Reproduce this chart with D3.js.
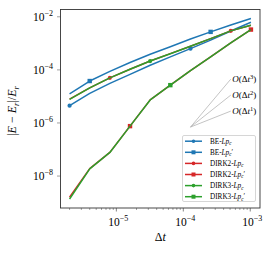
<!DOCTYPE html>
<html>
<head>
<meta charset="utf-8">
<script src="https://cdn.jsdelivr.net/npm/d3@7"></script>
<style>
  body { margin: 0; background: #fff; }
  svg { font-family: "Liberation Serif", "DejaVu Serif", serif; }
</style>
</head>
<body>
<div id="chart"></div>
<script>
// time steps (halving)
const dt = [2e-6, 4e-6, 8e-6, 1.6e-5, 3.2e-5, 6.4e-5, 1.28e-4, 2.56e-4, 5.12e-4, 1.024e-3];

// relative energy error for each scheme
const beLpc    = [4.5e-6, 1.3e-5, 3.1e-5, 6.8e-5, 1.49e-4, 3.1e-4, 6.3e-4, 1.32e-3, 2.9e-3, 6.2e-3];
const beLpcP   = [1.25e-5, 3.8e-5, 8.8e-5, 1.9e-4, 3.9e-4, 7.4e-4, 1.45e-3, 2.7e-3, 4.9e-3, 8.6e-3];
const dirk2Lpc = [7.9e-6, 2.1e-5, 5.0e-5, 1.05e-4, 2.15e-4, 4.1e-4, 7.8e-4, 1.5e-3, 2.95e-3, 4.8e-3];
const dirk2LpcP = [1.6e-9, 1.9e-8, 7.8e-8, 7.6e-7, 7.4e-6, 2.66e-5, 9.4e-5, 3.1e-4, 1.03e-3, 3.3e-3];
const dirk3Lpc = [7.7e-6, 2.1e-5, 5.0e-5, 1.05e-4, 2.15e-4, 4.07e-4, 7.8e-4, 1.51e-3, 2.95e-3, 4.8e-3];
const dirk3LpcP = [1.37e-9, 1.87e-8, 7.76e-8, 7.63e-7, 7.37e-6, 2.66e-5, 9.4e-5, 3.11e-4, 1.03e-3, 3.3e-3];

const schemes = ["BE", "BE", "DIRK2", "DIRK2", "DIRK3", "DIRK3"];
const primed = [false, true, false, true, false, true];

// reference slopes
const slopeOrders = [3, 2, 1];
const slopeDt = [1.28e-4, 5.12e-4];
const slopeE0 = 7e-7;

const yTicks = [1e-2, 1e-4, 1e-6, 1e-8];
const xTicks = [1e-5, 1e-4, 1e-3];

const W = 272, H = 256;
const pl = 60.5, pr = 260, pt = 9.5, pb = 208;

const series = [beLpc, beLpcP, dirk2Lpc, dirk2LpcP, dirk3Lpc, dirk3LpcP].map((v, i) => ({
  values: v,
  scheme: schemes[i],
  primed: primed[i],
  color: ["#1f77b4", "#d62728", "#2ca02c"][Math.floor(i / 2)],
  marker: primed[i] ? "square" : "circle",
  offset: i
}));

// log-space autoscale with 5% padding like matplotlib
function padded(vals) {
  const lo = Math.log10(d3.min(vals)), hi = Math.log10(d3.max(vals));
  const p = (hi - lo) * 0.05;
  return [Math.pow(10, lo - p), Math.pow(10, hi + p)];
}
const allE = series.flatMap(s => s.values);

const x = d3.scaleLog().domain(padded(dt)).range([pl, pr]);
const y = d3.scaleLog().domain(padded(allE)).range([pb, pt]);

const svg = d3.select("#chart").append("svg")
  .attr("width", W).attr("height", H);

// x ticks
const minor = x.ticks().filter(t => !xTicks.includes(t));
svg.append("g").selectAll("line").data(minor).join("line")
  .attr("x1", d => x(d)).attr("x2", d => x(d))
  .attr("y1", pb).attr("y2", pb + 2)
  .attr("stroke", "#666").attr("stroke-width", 0.6);
svg.append("g").selectAll("line").data(xTicks).join("line")
  .attr("x1", d => x(d)).attr("x2", d => x(d))
  .attr("y1", pb).attr("y2", pb + 3.5)
  .attr("stroke", "#666").attr("stroke-width", 0.8);

function powLabel(sel, d) {
  const e = Math.round(Math.log10(d));
  sel.append("tspan").text("10");
  sel.append("tspan").attr("dy", -5).attr("font-size", 8).text("\u2212" + Math.abs(e));
}

svg.append("g").selectAll("text").data(xTicks).join("text")
  .attr("x", d => x(d) + 2).attr("y", 226)
  .attr("text-anchor", "middle").attr("font-size", 11.5)
  .each(function(d) { powLabel(d3.select(this), d); });

// y ticks
svg.append("g").selectAll("line").data(yTicks).join("line")
  .attr("x1", pl - 3.5).attr("x2", pl)
  .attr("y1", d => y(d)).attr("y2", d => y(d))
  .attr("stroke", "#888").attr("stroke-width", 0.8);
svg.append("g").selectAll("text").data(yTicks).join("text")
  .attr("x", 53).attr("y", d => y(d) + 4)
  .attr("text-anchor", "end").attr("font-size", 11.5)
  .each(function(d) { powLabel(d3.select(this), d); });

// axis labels
svg.append("text").attr("x", (pl + pr) / 2).attr("y", 241)
  .attr("text-anchor", "middle").attr("font-size", 12)
  .html('\u0394<tspan font-style="italic">t</tspan>');

const yl = svg.append("text")
  .attr("transform", "translate(16,111) rotate(-90)")
  .attr("text-anchor", "middle").attr("font-size", 12);
yl.append("tspan").text("|");
yl.append("tspan").attr("font-style", "italic").text("E");
yl.append("tspan").text(" \u2212 ");
yl.append("tspan").attr("font-style", "italic").text("E");
yl.append("tspan").attr("font-style", "italic").attr("font-size", 8.5).attr("dy", 2.5).text("r");
yl.append("tspan").attr("dy", -2.5).text("|/");
yl.append("tspan").attr("font-style", "italic").text("E");
yl.append("tspan").attr("font-style", "italic").attr("font-size", 8.5).attr("dy", 2.5).text("r");

// reference slope lines
const slopeG = svg.append("g");
slopeOrders.forEach(p => {
  const e1 = slopeE0 * Math.pow(slopeDt[1] / slopeDt[0], p);
  slopeG.append("line")
    .attr("x1", x(slopeDt[0])).attr("y1", y(slopeE0))
    .attr("x2", x(slopeDt[1])).attr("y2", y(e1))
    .attr("stroke", "#aaa").attr("stroke-width", 0.7);
  const t = slopeG.append("text")
    .attr("x", x(slopeDt[1]) + 1.5).attr("y", y(e1) + 3)
    .attr("font-size", 9);
  t.append("tspan").attr("font-style", "italic").text("O");
  t.append("tspan").text("(\u0394");
  t.append("tspan").attr("font-style", "italic").text("t");
  t.append("tspan").attr("font-size", 6.5).attr("dy", -3.5).text(p);
  t.append("tspan").attr("dy", 3.5).text(")");
});

// data lines with markers every 6th point
const line = d3.line().x((d, i) => x(dt[i])).y(d => y(d));
function drawMarker(g, type, cx, cy, color, size) {
  if (type === "circle") {
    g.append("circle").attr("cx", cx).attr("cy", cy).attr("r", size / 2)
      .attr("fill", color);
  } else {
    g.append("rect").attr("x", cx - size / 2).attr("y", cy - size / 2)
      .attr("width", size).attr("height", size).attr("fill", color);
  }
}

series.forEach(s => {
  const g = svg.append("g");
  g.append("path").datum(s.values)
    .attr("d", line).attr("fill", "none")
    .attr("stroke", s.color).attr("stroke-width", 1.5)
    .attr("stroke-linejoin", "round");
  s.values.forEach((v, i) => {
    if (i >= s.offset && (i - s.offset) % 6 === 0) {
      drawMarker(g, s.marker, x(dt[i]), y(v), s.color, s.marker === "circle" ? 4.2 : 4.4);
    }
  });
});

// frame
svg.append("rect")
  .attr("x", pl).attr("y", pt)
  .attr("width", pr - pl).attr("height", pb - pt)
  .attr("fill", "none").attr("stroke", "#333").attr("stroke-width", 0.9);

// legend
const lg = svg.append("g").attr("transform", "translate(182.5,135.5)");
lg.append("rect").attr("width", 73).attr("height", 66).attr("rx", 1.5)
  .attr("fill", "#fff").attr("fill-opacity", 0.85)
  .attr("stroke", "#ccc").attr("stroke-width", 0.8);
series.forEach((s, i) => {
  const cy = 5.7 + i * 11.1;
  lg.append("line").attr("x1", 2.5).attr("x2", 19.5).attr("y1", cy).attr("y2", cy)
    .attr("stroke", s.color).attr("stroke-width", 1.5);
  drawMarker(lg, s.marker, 11, cy, s.color, s.marker === "circle" ? 3.6 : 4);
  const t = lg.append("text").attr("x", 27.5).attr("y", cy + 2.4).attr("font-size", 7.2);
  t.append("tspan").text(s.scheme + "-");
  t.append("tspan").attr("font-style", "italic").text("Lp");
  t.append("tspan").attr("font-style", "italic").attr("font-size", 5.2).attr("dy", 1.5).text("c");
  if (s.primed) t.append("tspan").attr("dy", -1.5).text("\u2032");
});
</script>
</body>
</html>
